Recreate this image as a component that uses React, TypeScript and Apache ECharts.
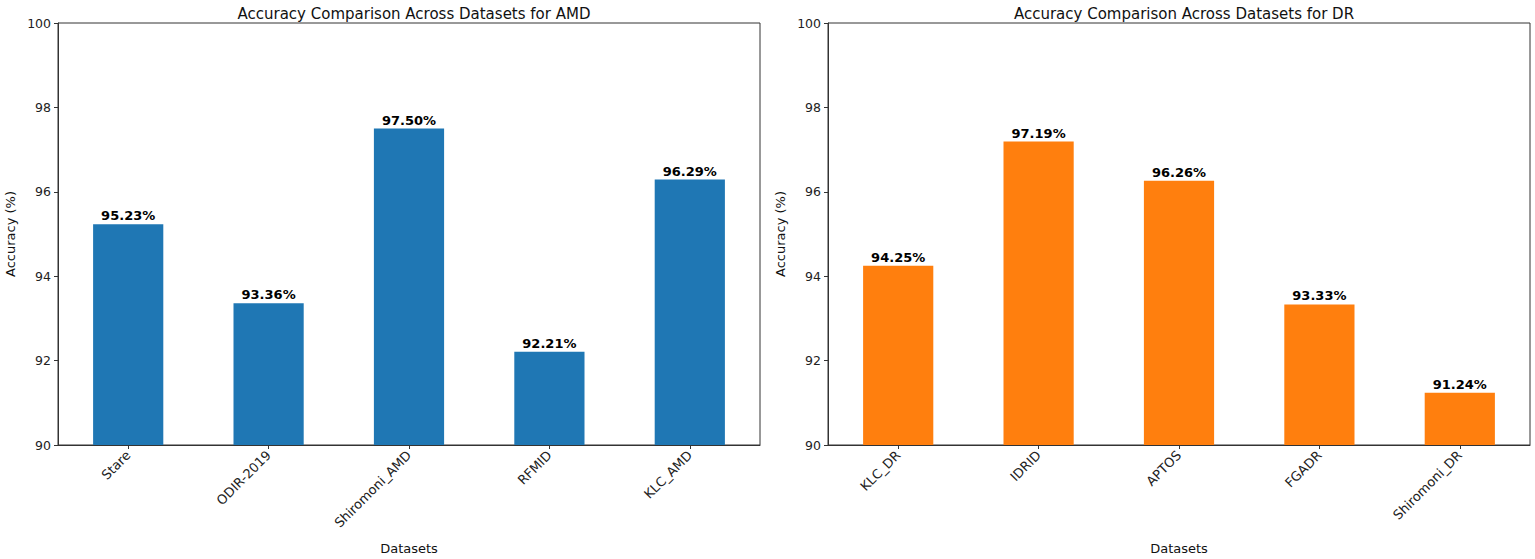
import React, { useEffect, useRef } from "react";
import * as echarts from "echarts";

const amdCategories = ["Stare", "ODIR-2019", "Shiromoni_AMD", "RFMID", "KLC_AMD"];
const amdValues = [95.23, 93.36, 97.5, 92.21, 96.29];
const drCategories = ["KLC_DR", "IDRID", "APTOS", "FGADR", "Shiromoni_DR"];
const drValues = [94.25, 97.19, 96.26, 93.33, 91.24];
const titles = ["Accuracy Comparison Across Datasets for AMD", "Accuracy Comparison Across Datasets for DR"];
const colors = ["#1f77b4", "#ff7f0e"];

const FONT = "DejaVu Sans";

export default function App() {
  const ref = useRef<HTMLDivElement>(null);
  useEffect(() => {
    if (!ref.current) return;
    const chart = echarts.init(ref.current, undefined, { renderer: "svg" });
    const grids = [
      { left: 58, top: 23, width: 702, height: 422 },
      { left: 828, top: 23, width: 702, height: 422 },
    ];
    const cats = [amdCategories, drCategories];
    const vals = [amdValues, drValues];
    chart.setOption({
      animation: false,
      backgroundColor: "#ffffff",
      textStyle: { fontFamily: FONT },
      title: grids.map((g, i) => ({
        text: titles[i],
        left: g.left + g.width / 2,
        top: 1,
        textAlign: "center",
        textStyle: { fontFamily: FONT, fontSize: 15, fontWeight: "normal", color: "#111" },
      })),
      grid: grids.map((g) => ({
        ...g,
        containLabel: false,
        outerBoundsMode: "none",
        show: true,
        borderColor: "#333",
        borderWidth: 1,
        backgroundColor: "transparent",
      })),
      xAxis: cats.map((c, i) => ({
        type: "category",
        gridIndex: i,
        data: c,
        name: "Datasets",
        nameLocation: "middle",
        nameGap: 97,
        nameTextStyle: { fontFamily: FONT, fontSize: 13, color: "#111" },
        axisLine: { show: true, lineStyle: { color: "#333", width: 1 } },
        axisTick: { show: true, alignWithLabel: true, length: 4, lineStyle: { color: "#333" } },
        axisLabel: {
          interval: 0,
          rotate: 45,
          fontFamily: FONT,
          fontSize: 13,
          color: "#222",
          margin: 8,
        },
        splitLine: { show: false },
      })),
      yAxis: cats.map((_, i) => ({
        type: "value",
        gridIndex: i,
        min: 90,
        max: 100,
        interval: 2,
        name: "Accuracy (%)",
        nameLocation: "middle",
        nameGap: 41,
        nameTextStyle: { fontFamily: FONT, fontSize: 13, color: "#111" },
        axisLine: { show: true, lineStyle: { color: "#333", width: 1 } },
        axisTick: { show: true, length: 4, lineStyle: { color: "#333" } },
        axisLabel: { fontFamily: FONT, fontSize: 12.5, color: "#222", margin: 7 },
        splitLine: { show: false },
      })),
      series: vals.map((v, i) => ({
        type: "bar",
        xAxisIndex: i,
        yAxisIndex: i,
        data: v,
        barWidth: "50%",
        itemStyle: { color: colors[i] },
        label: {
          show: true,
          position: "top",
          distance: 2,
          fontFamily: FONT,
          fontSize: 13,
          fontWeight: "bold",
          color: "#000",
          formatter: (p: any) => `${Number(p.value).toFixed(2)}%`,
        },
      })),
    });
    return () => chart.dispose();
  }, []);
  return (
    <div
      ref={ref}
      style={{ position: "fixed", left: 0, top: 0, width: 1535, height: 559, background: "#fff" }}
    />
  );
}
